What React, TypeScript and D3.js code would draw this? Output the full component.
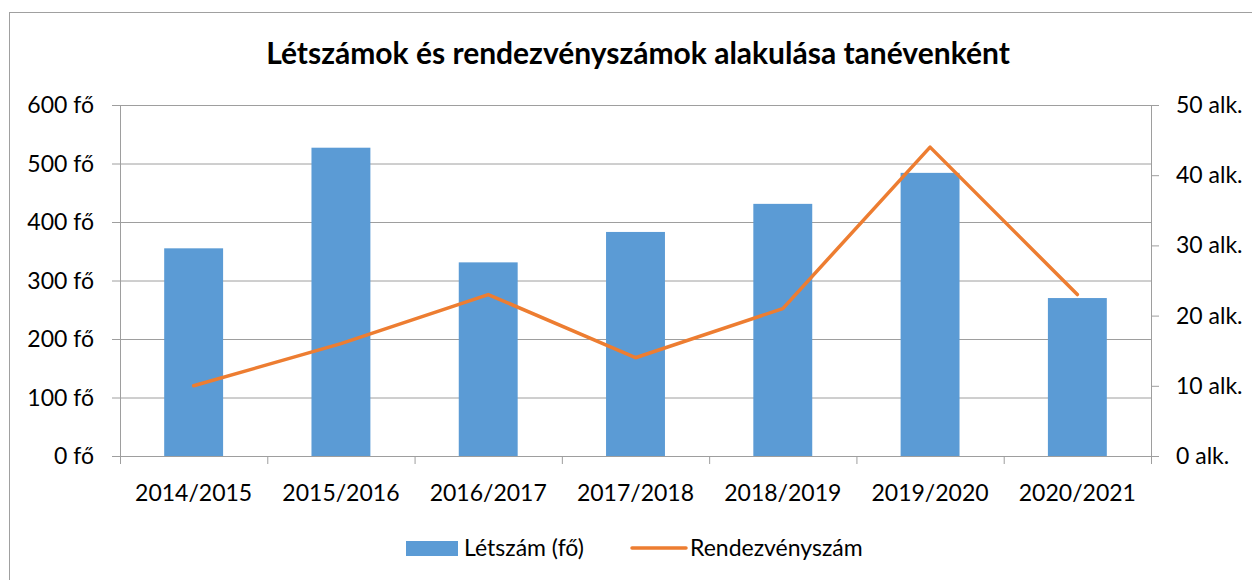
import React from "react";
import * as d3 from "d3";

const years = ["2014/2015", "2015/2016", "2016/2017", "2017/2018", "2018/2019", "2019/2020", "2020/2021"];
const letszam = [355, 527, 331, 383, 431, 484, 270];
const rendezveny = [10, 16, 23, 14, 21, 44, 23];
const leftTicks = [0, 100, 200, 300, 400, 500, 600];
const rightTicks = [0, 10, 20, 30, 40, 50];

const width = 1252;
const height = 580;
const plot = { left: 120, right: 1151, top: 105, bottom: 456 };
const font = "Lato, 'Open Sans', sans-serif";
const blue = "#5B9BD5";
const orange = "#ED7D31";
const grid = "#9E9E9E";
const fs = 23;

const App = () => {
  const x = d3.scaleBand().domain(years).range([plot.left, plot.right]).paddingInner(0.6).paddingOuter(0.3);
  const band = (plot.right - plot.left) / years.length;
  const yLeft = d3.scaleLinear().domain([0, 600]).range([plot.bottom, plot.top]);
  const yRight = d3.scaleLinear().domain([0, 50]).range([plot.bottom, plot.top]);

  const line = d3
    .line<number>()
    .x((d, i) => (x(years[i]) as number) + x.bandwidth() / 2)
    .y((d) => yRight(d));

  return (
    <svg width={width} height={height} style={{ position: "absolute", left: 0, top: 0 }}>
      <rect x={9.5} y={12.5} width={1260} height={600} fill="#fff" stroke="#A0A0A0" />
      <text x={638} y={64} textAnchor="middle" fontFamily={font} fontWeight="bold" fontSize={30} fill="#000">
        Létszámok és rendezvényszámok alakulása tanévenként
      </text>

      {leftTicks.map((t) => (
        <g key={"l" + t}>
          <line x1={plot.left - 8} x2={plot.right} y1={yLeft(t) + 0.5} y2={yLeft(t) + 0.5} stroke={grid} />
          <text x={94} y={yLeft(t) + 8} textAnchor="end" fontFamily={font} fontSize={fs} fill="#000">
            {t} fő
          </text>
        </g>
      ))}
      {rightTicks.map((t) => (
        <g key={"r" + t}>
          <line x1={plot.right} x2={plot.right + 8} y1={yRight(t) + 0.5} y2={yRight(t) + 0.5} stroke={grid} />
          <text x={1176} y={yRight(t) + 8} fontFamily={font} fontSize={fs} fill="#000">
            {t} alk.
          </text>
        </g>
      ))}
      <line x1={plot.left + 0.5} x2={plot.left + 0.5} y1={plot.top} y2={plot.bottom + 8} stroke={grid} />
      <line x1={plot.right + 0.5} x2={plot.right + 0.5} y1={plot.top} y2={plot.bottom + 8} stroke={grid} />
      {years.map((yr, i) => (
        <line
          key={"t" + yr}
          x1={plot.left + band * (i + 1) + 0.5}
          x2={plot.left + band * (i + 1) + 0.5}
          y1={plot.bottom}
          y2={plot.bottom + 8}
          stroke={grid}
        />
      ))}

      {years.map((yr, i) => (
        <rect
          key={"b" + yr}
          x={x(yr)}
          y={yLeft(letszam[i])}
          width={x.bandwidth()}
          height={plot.bottom - yLeft(letszam[i])}
          fill={blue}
        />
      ))}
      <path d={line(rendezveny) as string} fill="none" stroke={orange} strokeWidth={3.5} strokeLinejoin="round" strokeLinecap="round" />

      {years.map((yr) => (
        <text
          key={"x" + yr}
          x={(x(yr) as number) + x.bandwidth() / 2}
          y={501}
          textAnchor="middle"
          fontFamily={font}
          fontSize={fs}
          fill="#000"
        >
          {yr}
        </text>
      ))}

      <rect x={406} y={541} width={52} height={15} fill={blue} />
      <text x={464} y={556} fontFamily={font} fontSize={fs} fill="#000">
        Létszám (fő)
      </text>
      <line x1={632} x2={686} y1={548} y2={548} stroke={orange} strokeWidth={3.5} strokeLinecap="round" />
      <text x={690} y={556} fontFamily={font} fontSize={fs} fill="#000">
        Rendezvényszám
      </text>
    </svg>
  );
};

export default App;
